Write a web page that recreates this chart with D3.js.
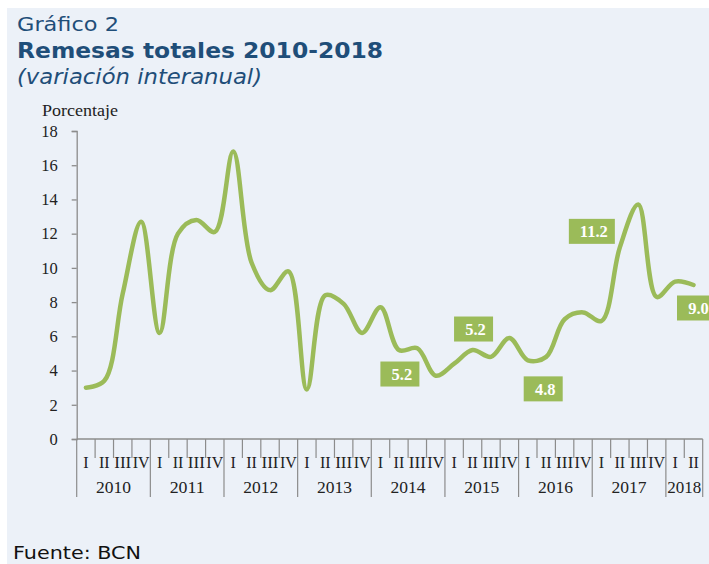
<!DOCTYPE html>
<html>
<head>
<meta charset="utf-8">
<script src="https://cdn.jsdelivr.net/npm/d3@7"></script>
<style>
  body { margin: 0; background: #fff; }
  svg { display: block; }
</style>
</head>
<body>
<div id="chart"></div>
<script>
// datos trimestrales, variacion interanual (%)
const years = ["2010", "2011", "2012", "2013", "2014", "2015", "2016", "2017", "2018"];
const quartersPerYear = [4, 4, 4, 4, 4, 4, 4, 4, 2];
const quarterNames = ["I", "II", "III", "IV"];
const values = [
  3.0, 3.4, 8.5, 12.7,
  6.2, 12.0, 12.8, 12.1,
  16.8, 10.3, 8.7, 9.8,
  2.9, 8.4, 7.9, 6.2,
  7.7, 5.2, 5.3, 3.7,
  4.4, 5.2, 4.8, 5.9,
  4.6, 4.8, 7.0, 7.4,
  6.9, 11.2, 13.7, 8.3,
  9.2, 9.0
];
const labelIdx = [17, 21, 25, 29, 33];
const yTicks = [0, 2, 4, 6, 8, 10, 12, 14, 16, 18];

const W = 709, H = 564;
const green = "#9BBB59", navy = "#1F4E79", axisCol = "#8c8c8c";
const serif = "'Liberation Serif', 'DejaVu Serif', serif";
const sans = "'DejaVu Sans', Verdana, sans-serif";

const svg = d3.select("#chart").append("svg").attr("width", W).attr("height", H);
svg.append("rect").attr("x", 7).attr("y", 8).attr("width", W - 7).attr("height", H - 8).attr("fill", "#ECF1F8");

// titulos (texto algo estirado como en el original)
function stretched(txt, xPos, yPos, size, len, extra) {
  const t = svg.append("text").attr("x", xPos).attr("y", yPos).attr("font-family", sans)
    .attr("font-size", size).attr("fill", navy).attr("textLength", len).attr("lengthAdjust", "spacingAndGlyphs").text(txt);
  if (extra) Object.entries(extra).forEach(([k, v]) => t.attr(k, v));
  return t;
}
stretched("Gráfico 2", 17, 31, 19, 102);
stretched("Remesas totales 2010-2018", 17, 58, 21, 366, { "font-weight": "bold" });
stretched("(variación interanual)", 17, 84, 20.5, 245, { "font-style": "italic" });
svg.append("text").attr("x", 42).attr("y", 116).attr("font-family", serif).attr("font-size", 16).attr("fill", "#222")
  .attr("textLength", 76).attr("lengthAdjust", "spacingAndGlyphs").text("Porcentaje");
svg.append("text").attr("x", 13).attr("y", 559).attr("font-family", sans).attr("font-size", 17).attr("fill", "#111")
  .attr("textLength", 128).attr("lengthAdjust", "spacingAndGlyphs").text("Fuente: BCN");

const x0 = 76.7, x1 = 702.7, yTop = 131, yBot = 439;
const categories = d3.range(values.length);
const x = d3.scaleBand().domain(categories).range([x0, x1]);
const y = d3.scaleLinear().domain([0, 18]).range([yBot, yTop]);

// eje Y
const yAxis = svg.append("g").attr("transform", `translate(${x0},0)`)
  .call(d3.axisLeft(y).tickValues(yTicks).tickSize(5).tickPadding(14));
yAxis.select(".domain").attr("stroke", axisCol).attr("stroke-width", 1.3);
yAxis.selectAll(".tick line").attr("stroke", axisCol).attr("stroke-width", 1.3);
yAxis.selectAll(".tick text").attr("font-family", serif).attr("font-size", 16.5).attr("fill", "#222");

// eje X: trimestres y años
const xa = svg.append("g");
xa.append("line").attr("x1", x0).attr("x2", x1).attr("y1", yBot).attr("y2", yBot).attr("stroke", axisCol).attr("stroke-width", 1.3);
let k = 0;
years.forEach((yr, yi) => {
  const n = quartersPerYear[yi];
  const start = x(k);
  for (let q = 0; q < n; q++) {
    const cx = x(k) + x.bandwidth() / 2;
    if (q > 0) xa.append("line").attr("x1", x(k)).attr("x2", x(k)).attr("y1", yBot).attr("y2", 458).attr("stroke", axisCol).attr("stroke-width", 1.2);
    xa.append("text").attr("x", cx).attr("y", 468).attr("text-anchor", "middle")
      .attr("font-family", serif).attr("font-size", 16).attr("fill", "#222")
      .attr("textLength", quarterNames[q].length > 2 ? 17 : null).attr("lengthAdjust", "spacingAndGlyphs")
      .text(quarterNames[q]);
    k++;
  }
  const end = x(k - 1) + x.bandwidth();
  xa.append("line").attr("x1", start).attr("x2", start).attr("y1", yBot).attr("y2", 497).attr("stroke", axisCol).attr("stroke-width", 1.2);
  if (yi === years.length - 1) xa.append("line").attr("x1", end).attr("x2", end).attr("y1", yBot).attr("y2", 497).attr("stroke", axisCol).attr("stroke-width", 1.2);
  xa.append("text").attr("x", (start + end) / 2).attr("y", 493).attr("text-anchor", "middle")
    .attr("font-family", serif).attr("font-size", 16).attr("fill", "#222")
    .attr("textLength", yi === years.length - 1 ? 34 : 35).attr("lengthAdjust", "spacingAndGlyphs").text(yr);
});

// linea suavizada
const line = d3.line().x((d, i) => x(i) + x.bandwidth() / 2).y(d => y(d)).curve(d3.curveCatmullRom.alpha(0.5));
svg.append("path").datum(values).attr("d", line).attr("fill", "none").attr("stroke", green)
  .attr("stroke-width", 4.5).attr("stroke-linecap", "round").attr("stroke-linejoin", "round");

// etiquetas
const offsets = { 17: [1, 24], 21: [1, -21], 25: [-3, 32], 29: [-28, -16], 33: [3, 23] };
labelIdx.forEach(i => {
  const cx = x(i) + x.bandwidth() / 2 + offsets[i][0];
  const cy = y(values[i]) + offsets[i][1];
  const txt = values[i].toFixed(1);
  const bw = txt.length > 3 ? 46 : 39;
  svg.append("rect").attr("x", cx - bw / 2).attr("y", cy - 12.5).attr("width", bw).attr("height", 25).attr("fill", green);
  svg.append("text").attr("x", cx + 2).attr("y", cy + 6).attr("text-anchor", "middle")
    .attr("font-family", serif).attr("font-weight", "bold").attr("font-size", 16.5).attr("fill", "#fff").text(txt);
});
</script>
</body>
</html>
